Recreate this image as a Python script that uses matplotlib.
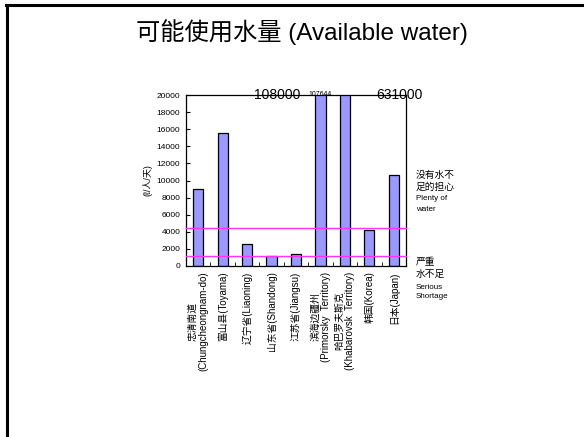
import numpy as np
import matplotlib
matplotlib.use("Agg")
import matplotlib.pyplot as plt
from matplotlib.lines import Line2D

plt.rcParams['font.family'] = ['Liberation Sans', 'Noto Sans CJK SC', 'DejaVu Sans']

# Available water per person per day (litres)
regions = ['忠清南道\n(Chungcheongnam-do)', '富山县(Toyama)', '辽宁省(Liaoning)',
           '山东省(Shandong)', '江苏省(Jiangsu)', '滨海边疆州\n(Primorsky  Territory)',
           '哈巴罗夫斯克\n(Khabarovsk  Territory)', '韩国(Korea)', '日本(Japan)']
water = [9000, 15600, 2600, 1150, 1350, 107644, 631000, 4200, 10700]
extra_label = 108000
plenty_level = 4500
shortage_level = 1150
y_ticks = list(range(0, 20001, 2000))

W, H = 584, 437
fig = plt.figure(figsize=(W / 100, H / 100), dpi=100)

def px(x, y):
    return x / W, 1 - y / H

# slide frame: top and left edges only
fig.add_artist(Line2D([6 / W, 1], [1 - 5 / H, 1 - 5 / H], color='black', lw=2.2))
fig.add_artist(Line2D([6.5 / W, 6.5 / W], [0, 1 - 5 / H], color='black', lw=2.2))

fig.text(*px(302, 32), '可能使用水量 (Available water)', fontsize=17.5,
         ha='center', va='center')

l, r = px(186, 0)[0], px(406, 0)[0]
b, t = px(0, 266)[1], px(0, 95)[1]
ax = fig.add_axes([l, b, r - l, t - b])

x = np.arange(len(regions))
ax.bar(x, water, width=0.42, color='#9999ff', edgecolor='black', linewidth=0.9,
       zorder=2)
ax.axhline(plenty_level, color='#ff33ff', lw=1, zorder=3, clip_on=False)
ax.axhline(shortage_level, color='#ff33ff', lw=1, zorder=3, clip_on=False)

ax.set_ylim(0, 20000)
ax.set_xlim(-0.5, len(regions) - 0.5)
ax.set_yticks(y_ticks)
ax.tick_params(axis='y', direction='in', length=3, labelsize=6, pad=4)
ax.set_xticks(x)
ax.set_xticklabels(regions, rotation=90, fontsize=7, va='top', ha='center',
                   linespacing=1.1)
ax.tick_params(axis='x', length=0, pad=4)
ax.set_xticks(np.arange(len(regions) + 1) - 0.5, minor=True)
ax.tick_params(axis='x', which='minor', direction='in', length=3)
for s in ax.spines.values():
    s.set_linewidth(0.9)
ax.set_ylabel('(ℓ/人/天)', fontsize=6.5, labelpad=3)

# values of bars running off the top
ax.text(3.23, 20000, f'{extra_label}', fontsize=10, ha='center', va='center')
ax.text(5, 20000, f'{water[5]}', fontsize=5, ha='center', va='center')
ax.text(8.23, 20000, f'{water[6]}', fontsize=10, ha='center', va='center')

fig.text(*px(416, 181), '没有水不\n足的担心', fontsize=7, va='center',
         linespacing=1.2)
fig.text(*px(416, 204), 'Plenty of\nwater', fontsize=5.8, va='center',
         linespacing=1.9)
fig.text(*px(416, 268), '严重\n水不足', fontsize=7, va='center',
         linespacing=1.2)
fig.text(*px(416, 292), 'Serious\nShortage', fontsize=5.8, va='center',
         linespacing=1.4)

fig.savefig('out.png', dpi=100)
